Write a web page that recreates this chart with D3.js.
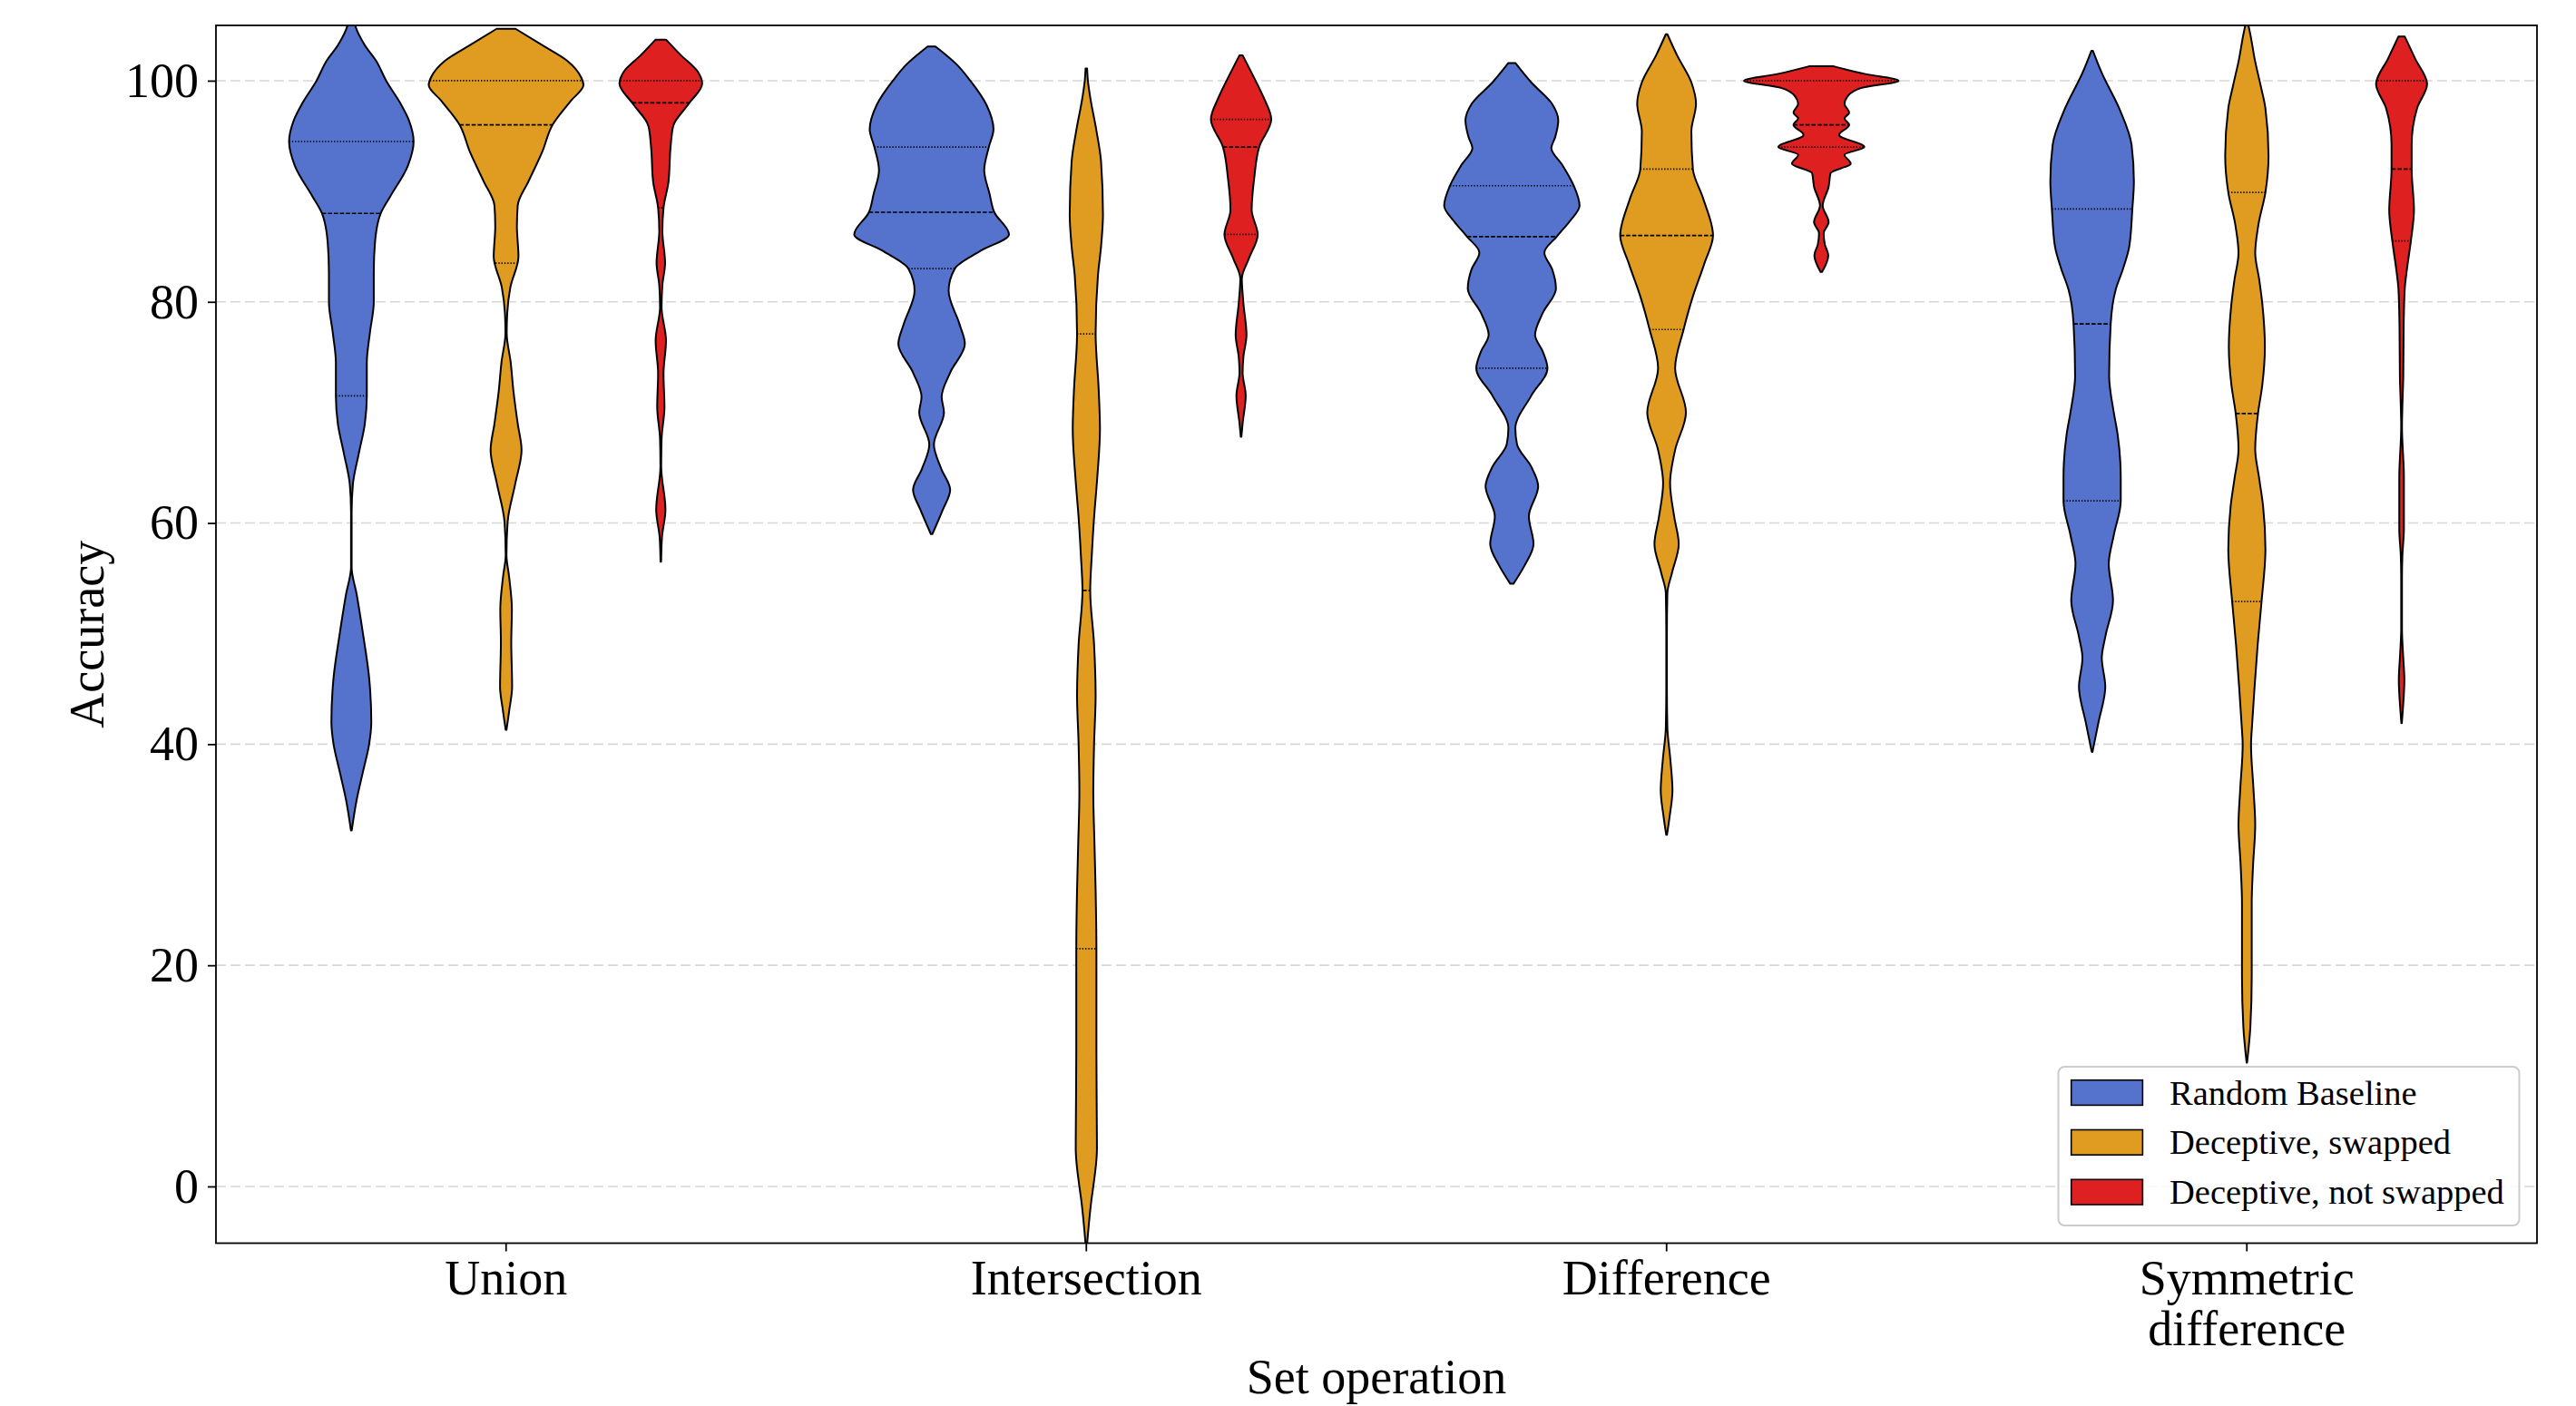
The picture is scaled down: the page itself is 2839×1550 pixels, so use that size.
<!DOCTYPE html>
<html>
<head>
<meta charset="utf-8">
<script src="https://cdn.jsdelivr.net/npm/d3@7"></script>
<style>
  html, body { margin: 0; padding: 0; background: #ffffff; }
  svg { display: block; }
  text { font-family: "Liberation Serif", "Times New Roman", Times, serif; fill: #000; }
</style>
</head>
<body>
<script>
// ---------------- DATA ----------------
const categories = ["Union", "Intersection", "Difference", "Symmetric difference"];
const categoryLines = [["Union"], ["Intersection"], ["Difference"], ["Symmetric", "difference"]];
const hues = ["Random Baseline", "Deceptive, swapped", "Deceptive, not swapped"];
const hueColors = ["#5573cd", "#df9c20", "#df2020"];
const yTicks = [0, 20, 40, 60, 80, 100];
const yLabel = "Accuracy";
const xLabel = "Set operation";

// density profiles: [accuracy, relative density (0..1)]
const unionBaseline = [[105.3,0.04],[105,0.05],[103.2,0.175],[101.8,0.32],[100,0.45],[98,0.63],[96.4,0.745],[94.5,0.805],[92.3,0.73],[89.5,0.5],[88,0.38],[85.4,0.306],[82.7,0.29],[80,0.29],[77.2,0.24],[74.5,0.2],[71.5,0.2],[69,0.175],[66.3,0.097],[63.5,0.02],[61,0.004],[56,0.004],[53.5,0.07],[50,0.15],[46,0.23],[42,0.258],[40,0.23],[37.5,0.15],[35,0.07],[32.2,0.005]];
const unionSwapped = [[104.7,0.12],[103.2,0.47],[101.8,0.79],[100.3,0.97],[99.6,1.0],[98.2,0.84],[96,0.6],[93.6,0.47],[90.9,0.29],[88.7,0.15],[86.8,0.14],[84.1,0.16],[81.3,0.055],[79,0.015],[77.2,0.008],[74.5,0.06],[71.8,0.097],[69,0.15],[66.6,0.2],[63.6,0.12],[60.1,0.02],[57.1,0.005],[55.1,0.04],[52.2,0.075],[49.2,0.067],[45.2,0.078],[43,0.04],[41.3,0.005]];
const unionNotSwapped = [[103.7,0.07],[102.3,0.26],[100.8,0.48],[99.75,0.535],[97.9,0.36],[95.9,0.16],[93.9,0.125],[90.9,0.1],[88.5,0.035],[86.4,0.02],[83.5,0.055],[81.5,0.02],[79.5,0.01],[76.5,0.067],[73.5,0.035],[70.5,0.047],[67.6,0.01],[65.1,0.005],[61.2,0.06],[58.7,0.015],[56.5,0.004]];

const interBaseline = [[103.1,0.05],[101.5,0.32],[100,0.5],[97.8,0.71],[95.6,0.8],[94,0.74],[91.9,0.68],[89.75,0.75],[88.1,0.81],[86.1,1.0],[84.6,0.63],[83,0.3],[81,0.22],[78,0.36],[76.2,0.43],[73.6,0.24],[71.4,0.13],[70,0.16],[67.1,0.03],[64.9,0.125],[63,0.24],[61.2,0.145],[59,0.01]];
const interSwapped = [[101.1,0.01],[100,0.02],[98.5,0.05],[95.5,0.13],[92.7,0.19],[87.9,0.215],[85,0.19],[82.4,0.15],[77.1,0.12],[72,0.16],[68.5,0.176],[64,0.14],[60.5,0.1],[57,0.07],[53.9,0.05],[49,0.1],[44.4,0.12],[40,0.1],[35.6,0.09],[31,0.105],[26.8,0.12],[21.5,0.13],[12.2,0.13],[6,0.135],[3.4,0.137],[0,0.09],[-1,0.07],[-5.2,0.01]];
const interNotSwapped = [[102.3,0.02],[100.7,0.137],[98.5,0.29],[96.5,0.39],[94,0.234],[91.2,0.17],[88.3,0.137],[86.1,0.215],[83.9,0.1],[82.1,0.01],[79.9,0.03],[77,0.07],[75,0.03],[73.6,0.02],[71.5,0.06],[69,0.02],[67.8,0.004]];

const diffBaseline = [[101.6,0.045],[99.85,0.25],[97.9,0.52],[96.4,0.6],[94.9,0.56],[93.9,0.51],[92.4,0.65],[90.5,0.8],[88.7,0.875],[87.3,0.75],[85.9,0.58],[84.45,0.42],[82.96,0.52],[81.2,0.57],[79,0.4],[77,0.3],[75.5,0.4],[74,0.46],[71.5,0.25],[68.55,0.045],[67.1,0.067],[65.1,0.25],[63.3,0.34],[60.6,0.22],[58.1,0.28],[56.1,0.16],[54.5,0.02]];
const diffSwapped = [[104.2,0.01],[102.3,0.135],[99.85,0.32],[97.9,0.38],[95.4,0.32],[92,0.34],[89.4,0.47],[86,0.6],[83.5,0.49],[80.5,0.34],[77.5,0.22],[74,0.11],[70,0.25],[66.6,0.11],[63.6,0.045],[60.5,0.1],[58.1,0.157],[55.5,0.07],[53.65,0.01],[50,0.004],[45,0.004],[41.5,0.01],[38.5,0.05],[35.8,0.076],[33.5,0.04],[31.8,0.005]];
const diffNotSwapped = [[101.3,0.16],[100.6,0.57],[100,1.0],[99.35,0.52],[98.6,0.34],[97.9,0.3],[97.1,0.36],[96.6,0.3],[96,0.36],[95.1,0.23],[94,0.556],[93.3,0.3],[92.5,0.38],[91.65,0.12],[90.4,0.094],[88.7,0.018],[87.2,0.094],[86.2,0.03],[85.2,0.045],[84.2,0.09],[82.7,0.01]];

const symBaseline = [[102.7,0.01],[100.7,0.125],[97.5,0.35],[94.2,0.51],[90.9,0.54],[88.4,0.52],[85,0.48],[83,0.4],[81.1,0.305],[78,0.24],[73.3,0.22],[70,0.28],[68,0.33],[64.1,0.37],[62,0.37],[58.9,0.28],[56.3,0.215],[53,0.27],[49.7,0.17],[47.8,0.125],[45.2,0.17],[41.9,0.08],[39.3,0.005]];
const symSwapped = [[105.5,0.005],[104,0.05],[102,0.1],[99.5,0.18],[97.5,0.24],[93.2,0.28],[89.9,0.24],[87,0.15],[84.4,0.108],[82,0.16],[79.8,0.2],[75.9,0.233],[72.5,0.2],[69.9,0.144],[66.7,0.108],[64,0.16],[61.5,0.21],[57.6,0.24],[52.9,0.19],[49,0.14],[45.2,0.1],[42,0.07],[39.9,0.054],[36,0.085],[32.7,0.108],[29,0.08],[25.6,0.063],[19,0.063],[14.4,0.045],[11.2,0.003]];
const symNotSwapped = [[104,0.04],[102,0.175],[99.7,0.33],[97.5,0.2],[94.2,0.13],[92,0.13],[88.3,0.16],[85.5,0.12],[83,0.07],[81.1,0.04],[77.8,0.027],[73.3,0.022],[70.5,0.01],[68.7,0.005],[64.1,0.03],[59.5,0.03],[57,0.01],[55,0.005],[50.4,0.005],[48,0.02],[45.8,0.036],[43,0.015],[41.9,0.003]];

// quartiles [Q1, median, Q3]
const unionQuartiles = [[71.5, 88, 94.5], [83.5, 96, 100], [88.5, 98, 100]];
const interQuartiles = [[83, 88.1, 94], [21.5, 53.9, 77.1], [86.1, 94, 96.5]];
const diffQuartiles  = [[74, 85.9, 90.5], [77.5, 86, 92], [94, 96, 100]];
const symQuartiles   = [[62, 78, 88.4], [52.9, 69.9, 89.9], [85.5, 92, 100]];

const profiles = [
  [unionBaseline, unionSwapped, unionNotSwapped],
  [interBaseline, interSwapped, interNotSwapped],
  [diffBaseline, diffSwapped, diffNotSwapped],
  [symBaseline, symSwapped, symNotSwapped]
];
const quartiles = [unionQuartiles, interQuartiles, diffQuartiles, symQuartiles];

// ---------------- LAYOUT ----------------
const W = 2839, H = 1550;
const plot = { left: 238, right: 2796, top: 28, bottom: 1370.5 };
const FONT = 54;

const svg = d3.select("body").append("svg").attr("width", W).attr("height", H);
svg.append("rect").attr("width", W).attr("height", H).attr("fill", "#fff");

const x = d3.scaleBand().domain(categories).range([plot.left, plot.right]).padding(0);
const xh = d3.scaleBand().domain(hues).range([0, x.bandwidth() * 0.8]);
const y = d3.scaleLinear().domain([-5.13, 105.0]).range([plot.bottom, plot.top]);
const wScale = d3.scaleLinear().domain([0, 1]).range([0, xh.bandwidth() / 2]);
const color = d3.scaleOrdinal().domain(hues).range(hueColors);

svg.append("clipPath").attr("id", "plotclip").append("rect")
  .attr("x", plot.left).attr("y", plot.top)
  .attr("width", plot.right - plot.left).attr("height", plot.bottom - plot.top);

// grid
svg.append("g").selectAll("line").data(yTicks).join("line")
  .attr("x1", plot.left).attr("x2", plot.right)
  .attr("y1", d => y(d)).attr("y2", d => y(d))
  .attr("stroke", "#d7d7d7").attr("stroke-width", 1.6).attr("stroke-dasharray", "11,5");

// violins
const violinData = [];
categories.forEach((c, ci) => {
  hues.forEach((h, hi) => {
    const cx = x(c) + x.bandwidth() * 0.1 + xh(h) + xh.bandwidth() / 2;
    violinData.push({ cat: c, hue: h, cx, profile: profiles[ci][hi], q: quartiles[ci][hi] });
  });
});

function widthAt(profile, v) {
  for (let i = 0; i < profile.length - 1; i++) {
    const a = profile[i], b = profile[i + 1];
    if (v <= a[0] && v >= b[0]) {
      const t = (a[0] - v) / (a[0] - b[0] || 1);
      return a[1] + t * (b[1] - a[1]);
    }
  }
  return 0;
}

const gV = svg.append("g").attr("clip-path", "url(#plotclip)");
violinData.forEach(vd => {
  const area = d3.area().curve(d3.curveMonotoneY)
    .y(d => y(d[0]))
    .x0(d => vd.cx - wScale(d[1]))
    .x1(d => vd.cx + wScale(d[1]));
  gV.append("path").datum(vd.profile)
    .attr("d", area)
    .attr("fill", color(vd.hue))
    .attr("stroke", "#000").attr("stroke-width", 2).attr("stroke-linejoin", "round");
  vd.q.forEach((qv, qi) => {
    const hw = wScale(widthAt(vd.profile, qv));
    gV.append("line")
      .attr("x1", vd.cx - hw).attr("x2", vd.cx + hw)
      .attr("y1", y(qv)).attr("y2", y(qv))
      .attr("stroke", "#000").attr("stroke-width", 1.7)
      .attr("stroke-dasharray", qi === 1 ? "4.6,2" : "1.3,2");
  });
});

// axes
const yAxis = d3.axisLeft(y).tickValues(yTicks).tickSize(9).tickPadding(10);
const gy = svg.append("g").attr("transform", `translate(${plot.left},0)`).call(yAxis);
gy.select(".domain").remove();
gy.selectAll(".tick line").attr("stroke", "#000").attr("stroke-width", 1.8);
gy.selectAll(".tick text").attr("font-size", FONT).attr("font-family", '"Liberation Serif", "Times New Roman", serif').attr("fill", "#000");

const xAxis = d3.axisBottom(x).tickSize(9).tickPadding(9);
const gx = svg.append("g").attr("transform", `translate(0,${plot.bottom})`).call(xAxis);
gx.select(".domain").remove();
gx.selectAll(".tick line").attr("stroke", "#000").attr("stroke-width", 1.8);
gx.selectAll(".tick text").each(function (d) {
  const t = d3.select(this);
  const lines = categoryLines[categories.indexOf(d)];
  t.text(null).attr("font-size", FONT).attr("font-family", '"Liberation Serif", "Times New Roman", serif').attr("fill", "#000");
  lines.forEach((ln, i) => {
    t.append("tspan").attr("x", 0).attr("dy", i === 0 ? null : 56.3).text(ln);
  });
});

// spines
svg.append("rect")
  .attr("x", plot.left).attr("y", plot.top)
  .attr("width", plot.right - plot.left).attr("height", plot.bottom - plot.top)
  .attr("fill", "none").attr("stroke", "#000").attr("stroke-width", 1.8);

// axis labels
svg.append("text").attr("transform", `translate(114,${(plot.top + plot.bottom) / 2}) rotate(-90)`)
  .attr("text-anchor", "middle").attr("font-size", FONT).text(yLabel);
svg.append("text").attr("x", (plot.left + plot.right) / 2).attr("y", 1536)
  .attr("text-anchor", "middle").attr("font-size", FONT).text(xLabel);

// legend
const lg = svg.append("g");
lg.append("rect").attr("x", 2268.5).attr("y", 1176).attr("width", 508).attr("height", 175)
  .attr("rx", 7).attr("ry", 7)
  .attr("fill", "#fff").attr("fill-opacity", 0.8)
  .attr("stroke", "#cccccc").attr("stroke-width", 2);
hues.forEach((h, i) => {
  const top = 1190.7 + i * 54.8;
  lg.append("rect").attr("x", 2282.7).attr("y", top).attr("width", 78.7).attr("height", 27.7)
    .attr("fill", color(h)).attr("stroke", "#000").attr("stroke-width", 1.6);
  lg.append("text").attr("x", 2391).attr("y", top + 13.85 + 13).attr("font-size", 38.5).text(h);
});
</script>
</body>
</html>
